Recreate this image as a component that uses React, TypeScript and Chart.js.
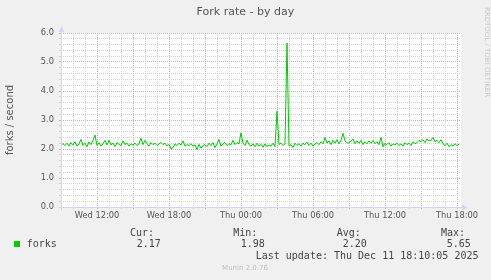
import React, { useEffect, useRef } from 'react';
import { Chart, registerables } from 'chart.js';

Chart.register(...registerables);

// Time axis: hours relative to Thu 00:00
const X_MIN = -15;
const X_MAX = 18.3333;
const START_HOUR = -15;
const STEP_HOURS = 1 / 6; // 10-minute samples

const forks = [
  2.15, 2.18, 2.12, 2.20, 2.10, 2.22, 2.14, 2.25, 2.10, 2.18, 2.33, 2.12,
  2.20, 2.08, 2.24, 2.15, 2.30, 2.48, 2.12, 2.22, 2.10, 2.18, 2.30, 2.14,
  2.30, 2.14, 2.20, 2.08, 2.22, 2.16, 2.12, 2.28, 2.15, 2.20, 2.10, 2.18,
  2.14, 2.20, 2.12, 2.18, 2.37, 2.15, 2.30, 2.18, 2.10, 2.22, 2.15, 2.20,
  2.12, 2.18, 2.22, 2.15, 2.20, 2.10, 2.16, 2.00, 2.05, 2.18, 2.12, 2.20,
  2.14, 2.28, 2.10, 2.15, 2.12, 2.18, 2.10, 2.14, 1.98, 2.16, 2.03, 2.12,
  2.15, 2.08, 2.20, 2.12, 2.22, 2.05, 2.18, 2.33, 2.10, 2.18, 2.22, 2.12,
  2.18, 2.15, 2.30, 2.15, 2.22, 2.18, 2.56, 2.20, 2.12, 2.30, 2.15, 2.10,
  2.18, 2.08, 2.20, 2.10, 2.16, 2.06, 2.18, 2.08, 2.14, 2.10, 2.20, 2.08,
  3.30, 2.15, 2.20, 2.12, 2.18, 5.65, 2.10, 2.15, 2.05, 2.20, 2.12, 2.18,
  2.10, 2.20, 2.15, 2.24, 2.12, 2.20, 2.10, 2.18, 2.22, 2.15, 2.25, 2.18,
  2.40, 2.20, 2.28, 2.15, 2.30, 2.20, 2.32, 2.18, 2.30, 2.54, 2.28, 2.22,
  2.20, 2.28, 2.35, 2.18, 2.28, 2.20, 2.30, 2.15, 2.25, 2.18, 2.28, 2.20,
  2.30, 2.18, 2.25, 2.15, 2.40, 2.07, 2.20, 2.15, 2.22, 2.10, 2.18, 2.14,
  2.20, 2.12, 2.18, 2.10, 2.22, 2.15, 2.20, 2.12, 2.25, 2.18, 2.22, 2.30,
  2.25, 2.32, 2.22, 2.35, 2.28, 2.30, 2.40, 2.25, 2.30, 2.22, 2.32, 2.18,
  2.12, 2.20, 2.08, 2.15, 2.10, 2.18, 2.12, 2.17,
];

const xTickHours = [-12, -6, 0, 6, 12, 18];
const xTickLabels = ['Wed 12:00', 'Wed 18:00', 'Thu 00:00', 'Thu 06:00', 'Thu 12:00', 'Thu 18:00'];
const Y_MAX = 6;
const Y_MINOR_STEP = 0.2;

const TITLE = 'Fork rate - by day';
const Y_TITLE = 'forks / second';
const SERIES_NAME = 'forks';
const statNames = ['Cur:', 'Min:', 'Avg:', 'Max:'];
const statValues = ['2.17', '1.98', '2.20', '5.65'];
const LAST_UPDATE = 'Last update: Thu Dec 11 18:10:05 2025';
const MUNIN_VERSION = 'Munin 2.0.76';
const RRD_CREDIT = 'RRDTOOL / TOBI OETIKER';

const LINE_COLOR = '#00cc00';
const MAJOR_GRID = '#eba3a3';
const MINOR_GRID = '#d2d2d2';
const AXIS_COLOR = '#cfd6f8';
const TEXT_COLOR = '#555555';

const isInt = (v: number) => Math.abs(v - Math.round(v)) < 1e-6;

const statNameX = [130, 233.3, 336.7, 441];
const statValueX = [136.7, 240.7, 342.7, 446.7];

const decor = {
  id: 'decor',
  beforeDraw(chart: any) {
    const { ctx, chartArea: a, width, height } = chart;
    ctx.save();
    ctx.fillStyle = '#f0f0f0';
    ctx.fillRect(0, 0, width, height);
    ctx.fillStyle = '#ffffff';
    ctx.fillRect(a.left, a.top, a.right - a.left, a.bottom - a.top);
    ctx.restore();
  },
  afterDraw(chart: any) {
    const { ctx, chartArea: a } = chart;
    ctx.save();
    // axes
    ctx.strokeStyle = AXIS_COLOR;
    ctx.fillStyle = AXIS_COLOR;
    ctx.lineWidth = 1;
    const lx = Math.round(a.left) + 0.5;
    const by = Math.round(a.bottom) + 0.5;
    ctx.beginPath();
    ctx.moveTo(lx, by + 3);
    ctx.lineTo(lx, a.top - 2);
    ctx.moveTo(lx - 3, by);
    ctx.lineTo(a.right + 2, by);
    ctx.stroke();
    ctx.beginPath();
    ctx.moveTo(lx - 3, a.top - 1);
    ctx.lineTo(lx + 3, a.top - 1);
    ctx.lineTo(lx, a.top - 7);
    ctx.closePath();
    ctx.fill();
    ctx.beginPath();
    ctx.moveTo(a.right + 1, by - 3);
    ctx.lineTo(a.right + 1, by + 3);
    ctx.lineTo(a.right + 7, by);
    ctx.closePath();
    ctx.fill();

    // title
    ctx.fillStyle = TEXT_COLOR;
    ctx.font = '11px "DejaVu Sans"';
    ctx.textAlign = 'center';
    ctx.textBaseline = 'middle';
    ctx.fillText(TITLE, 245.4, 12);

    // y title
    ctx.save();
    ctx.translate(10, 120);
    ctx.rotate(-Math.PI / 2);
    ctx.font = '10px "DejaVu Sans"';
    ctx.fillText(Y_TITLE, 0, 0);
    ctx.restore();

    // rrdtool credit
    ctx.save();
    ctx.translate(486.5, 52);
    ctx.rotate(Math.PI / 2);
    ctx.fillStyle = '#c8c8c8';
    ctx.font = '7px "DejaVu Sans"';
    ctx.fillText(RRD_CREDIT, 0, 0);
    ctx.restore();

    // legend
    ctx.font = '10px "DejaVu Sans Mono"';
    ctx.textAlign = 'left';
    ctx.fillStyle = '#444444';
    statNames.forEach((s, i) => ctx.fillText(s, statNameX[i], 233.5));
    statValues.forEach((s, i) => ctx.fillText(s, statValueX[i], 244.5));
    ctx.fillText(SERIES_NAME, 26.7, 244.5);
    ctx.fillText(LAST_UPDATE, 255.7, 256.3);
    ctx.fillStyle = LINE_COLOR;
    ctx.fillRect(14, 241, 6, 6);

    // munin version
    ctx.fillStyle = '#c0c0c0';
    ctx.font = '7px "DejaVu Sans"';
    ctx.textAlign = 'center';
    ctx.fillText(MUNIN_VERSION, 245, 268.5);
    ctx.restore();
  },
};

export default function App() {
  const ref = useRef<HTMLCanvasElement>(null);
  useEffect(() => {
    document.body.style.margin = '0';
    document.body.style.background = '#f0f0f0';
    const canvas = ref.current!;
    const points = forks.map((v, i) => ({ x: START_HOUR + i * STEP_HOURS, y: v }));
    const tickFont = { family: '"DejaVu Sans"', size: 8.3 };
    const chart = new Chart(canvas, {
      type: 'line',
      data: {
        datasets: [
          {
            data: points,
            borderColor: LINE_COLOR,
            borderWidth: 1,
            pointRadius: 0,
            tension: 0,
            fill: false,
          },
        ],
      },
      options: {
        animation: false,
        responsive: false,
        devicePixelRatio: 1,
        layout: { padding: { left: 0, right: 30, top: 33, bottom: 0 } },
        plugins: {
          legend: { display: false },
          tooltip: { enabled: false },
          title: { display: false },
        },
        scales: {
          x: {
            type: 'linear',
            min: X_MIN,
            max: X_MAX,
            afterBuildTicks: (s: any) => {
              const t = [];
              for (let h = Math.ceil(X_MIN); h <= Math.floor(X_MAX); h++) t.push({ value: h });
              s.ticks = t;
            },
            afterFit: (s: any) => {
              s.height = 73;
            },
            ticks: {
              autoSkip: false,
              maxRotation: 0,
              minRotation: 0,
              padding: 1.5,
              font: tickFont,
              color: TEXT_COLOR,
              callback: (v: any) => {
                const idx = xTickHours.indexOf(Math.round(Number(v)));
                return idx >= 0 ? xTickLabels[idx] : '';
              },
            },
            grid: {
              color: (c: any) => (isInt(c.tick.value / 3) ? MAJOR_GRID : MINOR_GRID),
              tickColor: (c: any) => (isInt(c.tick.value / 3) ? MAJOR_GRID : MINOR_GRID),
              tickLength: 2,
              lineWidth: 1,
            },
            border: { display: false, dash: [1, 1] },
          },
          y: {
            type: 'linear',
            min: 0,
            max: Y_MAX,
            afterBuildTicks: (s: any) => {
              const t = [];
              const n = Math.round(Y_MAX / Y_MINOR_STEP);
              for (let k = 0; k <= n; k++) t.push({ value: +(k * Y_MINOR_STEP).toFixed(4) });
              s.ticks = t;
            },
            afterFit: (s: any) => {
              s.width = 61;
            },
            ticks: {
              autoSkip: false,
              padding: 5,
              font: tickFont,
              color: TEXT_COLOR,
              callback: (v: any) => (isInt(Number(v)) ? Number(v).toFixed(1) : ''),
            },
            grid: {
              color: (c: any) => (isInt(c.tick.value) ? MAJOR_GRID : MINOR_GRID),
              tickColor: (c: any) => (isInt(c.tick.value) ? MAJOR_GRID : MINOR_GRID),
              tickLength: 2,
              lineWidth: 1,
            },
            border: { display: false, dash: [1, 1] },
          },
        },
      },
      plugins: [decor],
    } as any);
    return () => chart.destroy();
  }, []);
  return (
    <div style={{ position: 'fixed', left: 0, top: 0, width: 491, height: 280 }}>
      <canvas ref={ref} width={491} height={280} style={{ display: 'block', width: 491, height: 280 }} />
    </div>
  );
}
